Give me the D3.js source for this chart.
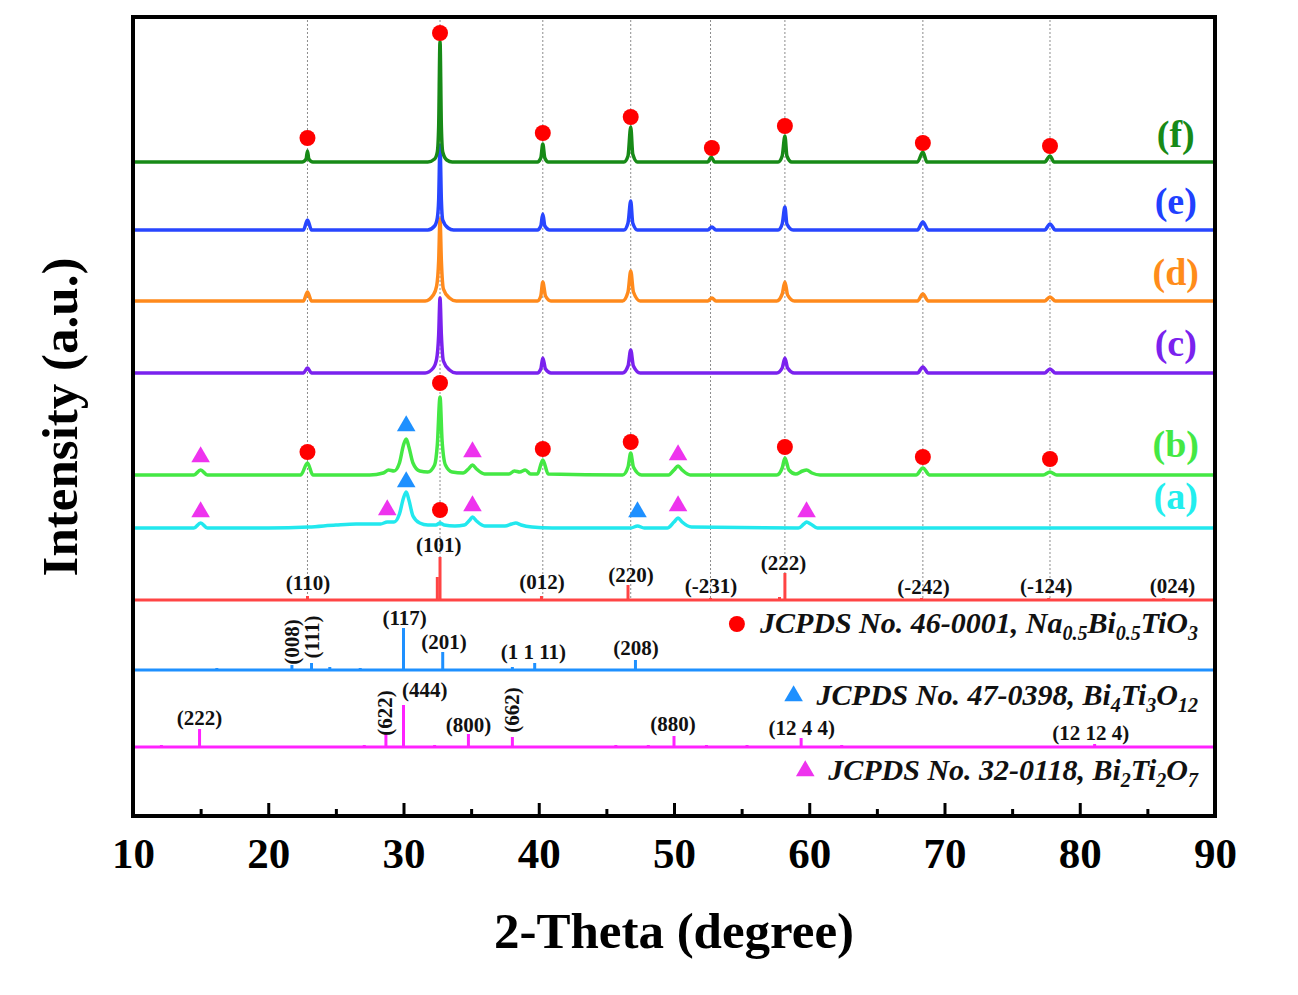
<!DOCTYPE html>
<html>
<head>
<meta charset="utf-8">
<script src="https://cdn.jsdelivr.net/npm/d3@7"></script>
<style>
  body { margin: 0; background: #fff; }
  svg { display: block; font-family: 'Liberation Serif', 'Times New Roman', serif; font-weight: bold; }
</style>
</head>
<body>
<script>
// x ticks
const majorTicks = [10, 20, 30, 40, 50, 60, 70, 80, 90]
const minorTicks = [15, 25, 35, 45, 55, 65, 75, 85]

// measured patterns: [2theta, intensity above own baseline]
const patternA = [
  [10, 0], [14.5, 0], [15.0, 5], [15.5, 0],
  [20, 0], [23, 1], [25, 3], [26.5, 4], [27.5, 4], [28.3, 4], [28.8, 6], [29.3, 6], [29.7, 14], [30.0, 30], [30.2, 36], [30.4, 28], [30.7, 12], [31.2, 5], [31.8, 3],
  [32.4, 3], [32.7, 5], [33.0, 3], [33.8, 2],
  [34.5, 3], [34.9, 8], [35.1, 11], [35.4, 7], [36.0, 2],
  [37.5, 2], [38.0, 4], [38.3, 5], [38.7, 3], [39.5, 1],
  [41, 0], [46.8, 0], [47.3, 2], [47.8, 0],
  [49.5, 0], [50.0, 6], [50.3, 10], [50.6, 6], [51.3, 1],
  [59.2, 0], [59.6, 4], [59.8, 6], [60.1, 4], [60.6, 0],
  [90, 0]
]
const patternB = [
  [10, 0], [14.5, 0], [15.0, 5], [15.5, 0],
  [22.4, 0], [22.9, 12], [23.3, 0],
  [27.5, 0], [28.5, 2], [28.9, 5], [29.3, 4], [29.7, 12], [30.0, 30], [30.2, 36], [30.4, 28], [30.7, 12], [31.2, 4],
  [31.8, 3], [32.3, 10], [32.5, 30], [32.7, 78], [32.85, 35], [33.1, 10], [33.6, 3],
  [34.4, 2], [34.8, 6], [35.1, 10], [35.4, 6], [36.0, 1],
  [37.8, 1], [38.2, 4], [38.6, 3], [39.0, 5], [39.4, 1],
  [39.9, 1], [40.3, 15], [40.7, 1],
  [46.2, 0], [46.6, 8], [46.8, 22], [47.0, 8], [47.6, 0],
  [49.6, 0], [50.0, 5], [50.3, 9], [50.6, 5], [51.2, 0],
  [57.6, 0], [58.0, 7], [58.2, 17], [58.5, 5], [59.0, 1], [59.5, 4], [59.8, 5], [60.2, 2], [60.8, 0],
  [67.9, 0], [68.4, 7], [68.9, 0],
  [77.3, 0], [77.8, 3], [78.3, 0],
  [90, 0]
]
const patternC = [
  [10, 0], [22.6, 0], [22.9, 5], [23.2, 0],
  [31.6, 0], [32.2, 5], [32.45, 14], [32.6, 38], [32.7, 75], [32.8, 38], [32.95, 12], [33.4, 3], [33.9, 0],
  [39.9, 0], [40.15, 4], [40.3, 15], [40.5, 4], [40.9, 0],
  [46.2, 0], [46.6, 7], [46.8, 23], [47.0, 7], [47.5, 0],
  [57.6, 0], [58.0, 5], [58.2, 15], [58.4, 5], [58.9, 0],
  [68.0, 0], [68.4, 6], [68.8, 0],
  [77.4, 0], [77.8, 4], [78.2, 0],
  [90, 0]
]
const patternD = [
  [10, 0], [22.6, 0], [22.9, 9], [23.2, 0],
  [31.6, 0], [32.2, 6], [32.45, 15], [32.6, 40], [32.7, 82], [32.8, 40], [32.95, 12], [33.4, 3], [33.9, 0],
  [39.9, 0], [40.15, 5], [40.3, 19], [40.5, 5], [40.9, 0],
  [46.2, 0], [46.6, 9], [46.8, 30], [47.0, 9], [47.5, 0],
  [52.5, 0], [52.8, 3], [53.1, 0],
  [57.6, 0], [58.0, 7], [58.2, 19], [58.4, 6], [58.9, 0],
  [68.0, 0], [68.4, 7], [68.8, 0],
  [77.4, 0], [77.8, 4], [78.2, 0],
  [90, 0]
]
const patternE = [
  [10, 0], [22.6, 0], [22.9, 10], [23.2, 0],
  [31.8, 0], [32.3, 4], [32.5, 12], [32.6, 30], [32.7, 85], [32.8, 30], [32.9, 10], [33.3, 2], [33.7, 0],
  [39.9, 0], [40.15, 4], [40.3, 16], [40.45, 4], [40.8, 0],
  [46.3, 0], [46.6, 7], [46.8, 29], [46.95, 7], [47.3, 0],
  [52.5, 0], [52.8, 3], [53.1, 0],
  [57.7, 0], [58.0, 6], [58.2, 23], [58.35, 6], [58.8, 0],
  [68.0, 0], [68.4, 8], [68.8, 0],
  [77.4, 0], [77.8, 6], [78.2, 0],
  [90, 0]
]
const patternF = [
  [10, 0], [22.5, 0], [22.8, 3], [22.9, 11], [23.0, 3], [23.3, 0],
  [31.8, 0], [32.3, 3], [32.5, 10], [32.6, 35], [32.7, 121], [32.8, 35], [32.9, 10], [33.2, 2], [33.6, 0],
  [39.9, 0], [40.15, 4], [40.3, 18], [40.45, 4], [40.7, 0],
  [46.3, 0], [46.6, 6], [46.8, 35], [46.95, 8], [47.3, 0],
  [52.5, 0], [52.75, 5], [53.0, 0],
  [57.7, 0], [58.0, 6], [58.2, 26], [58.35, 6], [58.7, 0],
  [68.0, 0], [68.4, 10], [68.7, 0],
  [77.4, 0], [77.8, 6], [78.1, 0],
  [90, 0]
]

const sampleNames = ['(a)', '(b)', '(c)', '(d)', '(e)', '(f)']
const samplePatterns = [patternA, patternB, patternC, patternD, patternE, patternF]

// reference cards: [2theta, relative intensity]
const nbtSticks = [[22.9, 4], [32.5, 23], [32.7, 43], [40.2, 4], [46.6, 15], [52.7, 2], [57.8, 3], [58.2, 27], [68.3, 2], [77.7, 2], [86.2, 2]]
const bitSticks = [[16.2, 2], [21.75, 5], [23.2, 7], [24.55, 3], [26.8, 2], [30.0, 42], [32.9, 18], [36.8, 1], [38.05, 3], [39.7, 7], [47.15, 10]]
const btoSticks = [[12.1, 2], [14.92, 18], [27.1, 2], [28.7, 14], [30.0, 42], [32.3, 2], [34.8, 13], [38.05, 10], [45.7, 2], [48.1, 2], [50.0, 11], [52.4, 2], [55.4, 2], [59.4, 9], [62.4, 2], [73.3, 1], [81.1, 3]]

// hkl labels: [text, 2theta, level above card baseline, rotated]
const nbtHkl = [['(110)', 22.94, 10], ['(101)', 32.6, 48], ['(012)', 40.24, 11], ['(220)', 46.82, 18], ['(-231)', 52.73, 7], ['(222)', 58.09, 30], ['(-242)', 68.44, 6], ['(-124)', 77.52, 7], ['(024)', 86.85, 7]]
const bitHkl = [['(008)', 21.75, 28, true], ['(111)', 23.27, 33, true], ['(117)', 30.08, 45], ['(201)', 32.99, 21], ['(1 1 11)', 39.6, 11], ['(208)', 47.19, 15]]
const btoHkl = [['(222)', 14.92, 22], ['(622)', 28.66, 34, true], ['(444)', 31.57, 50], ['(800)', 34.81, 15], ['(662)', 38.0, 37, true], ['(880)', 49.93, 16], ['(12 4 4)', 59.45, 12], ['(12 12 4)', 80.82, 7]]

// NBT peak positions (guide lines)
const guideThetas = [22.9, 32.7, 40.3, 46.8, 52.7, 58.2, 68.4, 77.8]

// phase markers: [sample index, 2theta, level above sample baseline]
const nbtMarks = [[5, 22.9, 24], [5, 32.7, 129], [5, 40.3, 29], [5, 46.8, 45], [5, 52.8, 14], [5, 58.2, 36], [5, 68.4, 19], [5, 77.8, 16],
  [1, 22.9, 23], [1, 32.7, 92], [1, 40.3, 26], [1, 46.8, 33], [1, 58.2, 28], [1, 68.4, 18], [1, 77.8, 16], [0, 32.7, 18]]
const bitMarks = [[1, 30.2, 49], [0, 30.2, 46], [0, 47.3, 16]]
const btoMarks = [[1, 15.0, 18], [1, 35.1, 23], [1, 50.3, 20], [0, 15.0, 16], [0, 28.8, 18], [0, 35.1, 22], [0, 50.3, 22], [0, 59.8, 16]]

// layout
const W = 1298, H = 995
const plot = { left: 133, right: 1215, top: 17, bottom: 816 }
const sampleOffsets = [288, 341, 443, 515, 586, 654]
const sampleColors = ['#22e8ee', '#44e844', '#7a22ee', '#ff8a1c', '#2846ff', '#178a17']
const labelColors = ['#22eeee', '#44e844', '#7a22ee', '#ff8c1a', '#2040ff', '#178a17']
const labelLevels = [19, 18, 17, 16, 16, 15]
const cardOffsets = { nbt: 216, bit: 146, bto: 69 }
const cardColors = { nbt: '#ff4444', bit: '#1e90ff', bto: '#ff22ff' }
const markColors = { nbt: '#ff0000', bit: '#1e90ff', bto: '#ee33ee' }

const x = d3.scaleLinear().domain([10, 90]).range([plot.left, plot.right])
const y = d3.scaleLinear().domain([0, 800]).range([plot.bottom, plot.top - 1])

const svg = d3.select('body').append('svg').attr('width', W).attr('height', H)

// dotted guides
svg.append('g')
  .selectAll('line')
  .data(guideThetas)
  .join('line')
  .attr('x1', d => x(d)).attr('x2', d => x(d))
  .attr('y1', y(800)).attr('y2', y(cardOffsets.nbt))
  .attr('stroke', '#8c8c8c')
  .attr('stroke-width', 1)
  .attr('stroke-dasharray', '2,2')

function drawCard(sticks, offset, color) {
  const g = svg.append('g').attr('stroke', color).attr('stroke-width', 3)
  g.append('line')
    .attr('x1', x(10)).attr('x2', x(90))
    .attr('y1', y(offset)).attr('y2', y(offset))
  g.selectAll('.stick')
    .data(sticks)
    .join('line')
    .attr('class', 'stick')
    .attr('x1', d => x(d[0])).attr('x2', d => x(d[0]))
    .attr('y1', y(offset)).attr('y2', d => y(offset + d[1]))
}

function drawHkl(labels, offset) {
  svg.append('g')
    .selectAll('text')
    .data(labels)
    .join('text')
    .attr('font-size', 21)
    .attr('fill', '#111')
    .attr('text-anchor', 'middle')
    .attr('dominant-baseline', d => (d[3] ? 'central' : null))
    .attr('transform', d => `translate(${x(d[1])},${y(offset + d[2])})` + (d[3] ? ' rotate(-90)' : ''))
    .text(d => d[0])
}

drawCard(btoSticks, cardOffsets.bto, cardColors.bto)
drawCard(bitSticks, cardOffsets.bit, cardColors.bit)
drawCard(nbtSticks, cardOffsets.nbt, cardColors.nbt)
drawHkl(nbtHkl, cardOffsets.nbt)
drawHkl(bitHkl, cardOffsets.bit)
drawHkl(btoHkl, cardOffsets.bto)

// sample patterns, (a) at the back, (f) in front
const line = d3.line().curve(d3.curveMonotoneX)
samplePatterns.forEach((pts, i) => {
  svg.append('path')
    .attr('fill', 'none')
    .attr('stroke', sampleColors[i])
    .attr('stroke-width', 3.5)
    .attr('stroke-linejoin', 'round')
    .attr('d', line(pts.map(p => [x(p[0]), y(sampleOffsets[i] + p[1])])))
})

svg.append('g')
  .selectAll('text')
  .data(sampleNames)
  .join('text')
  .attr('x', x(87.1))
  .attr('y', (d, i) => y(sampleOffsets[i] + labelLevels[i]))
  .attr('text-anchor', 'middle')
  .attr('font-size', 38)
  .attr('fill', (d, i) => labelColors[i])
  .text(d => d)

// markers
const triangle = d3.symbol(d3.symbolTriangle, 150)
svg.append('g')
  .selectAll('circle')
  .data(nbtMarks)
  .join('circle')
  .attr('cx', d => x(d[1]))
  .attr('cy', d => y(sampleOffsets[d[0]] + d[2]))
  .attr('r', 8)
  .attr('fill', markColors.nbt)

function drawTriangles(marks, color) {
  svg.append('g')
    .selectAll('path')
    .data(marks)
    .join('path')
    .attr('d', triangle)
    .attr('transform', d => `translate(${x(d[1])},${y(sampleOffsets[d[0]] + d[2])})`)
    .attr('fill', color)
}
drawTriangles(bitMarks, markColors.bit)
drawTriangles(btoMarks, markColors.bto)

// card legends
const legendRows = [
  { y: 633, sym: 'circle', color: markColors.nbt, parts: [['JCPDS No. 46-0001, Na'], ['0.5', 1], ['Bi'], ['0.5', 1], ['TiO'], ['3', 1]] },
  { y: 705, sym: 'tri', color: markColors.bit, parts: [['JCPDS No. 47-0398, Bi'], ['4', 1], ['Ti'], ['3', 1], ['O'], ['12', 1]] },
  { y: 780, sym: 'tri', color: markColors.bto, parts: [['JCPDS No. 32-0118, Bi'], ['2', 1], ['Ti'], ['2', 1], ['O'], ['7', 1]] },
]
legendRows.forEach(row => {
  const t = svg.append('text')
    .attr('x', 1198)
    .attr('y', row.y)
    .attr('text-anchor', 'end')
    .attr('font-style', 'italic')
    .attr('font-size', 30)
    .attr('fill', '#111')
  let shifted = 0
  row.parts.forEach(([s, sub]) => {
    const dy = sub ? 7 - shifted : -shifted
    shifted = sub ? 7 : 0
    t.append('tspan').attr('dy', dy).attr('font-size', sub ? 20 : 30).text(s)
  })
  const symX = t.node().getBBox().x - 22
  if (row.sym === 'circle') {
    svg.append('circle').attr('cx', symX).attr('cy', row.y - 9).attr('r', 8).attr('fill', row.color)
  } else {
    svg.append('path').attr('d', triangle).attr('transform', `translate(${symX},${row.y - 9})`).attr('fill', row.color)
  }
})

// bottom axis, ticks pointing in
const axisG = svg.append('g').attr('transform', `translate(0,${plot.bottom})`)
axisG.call(d3.axisBottom(x).tickValues(majorTicks).tickSizeInner(-13).tickSizeOuter(0).tickFormat(d3.format('d')))
  .call(g => g.select('.domain').remove())
  .call(g => g.selectAll('line').attr('stroke', '#000').attr('stroke-width', 3))
  .call(g => g.selectAll('text')
    .attr('y', 52).attr('dy', null)
    .attr('fill', '#000')
    .attr('font-size', 43)
    .attr('font-family', "'Liberation Serif', 'Times New Roman', serif")
    .attr('font-weight', 'bold'))
svg.append('g').attr('transform', `translate(0,${plot.bottom})`)
  .call(d3.axisBottom(x).tickValues(minorTicks).tickSizeInner(-7).tickSizeOuter(0).tickFormat(''))
  .call(g => g.select('.domain').remove())
  .call(g => g.selectAll('line').attr('stroke', '#000').attr('stroke-width', 3))

// frame
svg.append('rect')
  .attr('x', plot.left).attr('y', plot.top)
  .attr('width', plot.right - plot.left).attr('height', plot.bottom - plot.top)
  .attr('fill', 'none')
  .attr('stroke', '#000')
  .attr('stroke-width', 4)

svg.append('text')
  .attr('x', (plot.left + plot.right) / 2)
  .attr('y', 948)
  .attr('text-anchor', 'middle')
  .attr('font-size', 51)
  .text('2-Theta (degree)')

svg.append('text')
  .attr('transform', `translate(77,417) rotate(-90)`)
  .attr('text-anchor', 'middle')
  .attr('font-size', 51)
  .text('Intensity (a.u.)')
</script>
</body>
</html>
